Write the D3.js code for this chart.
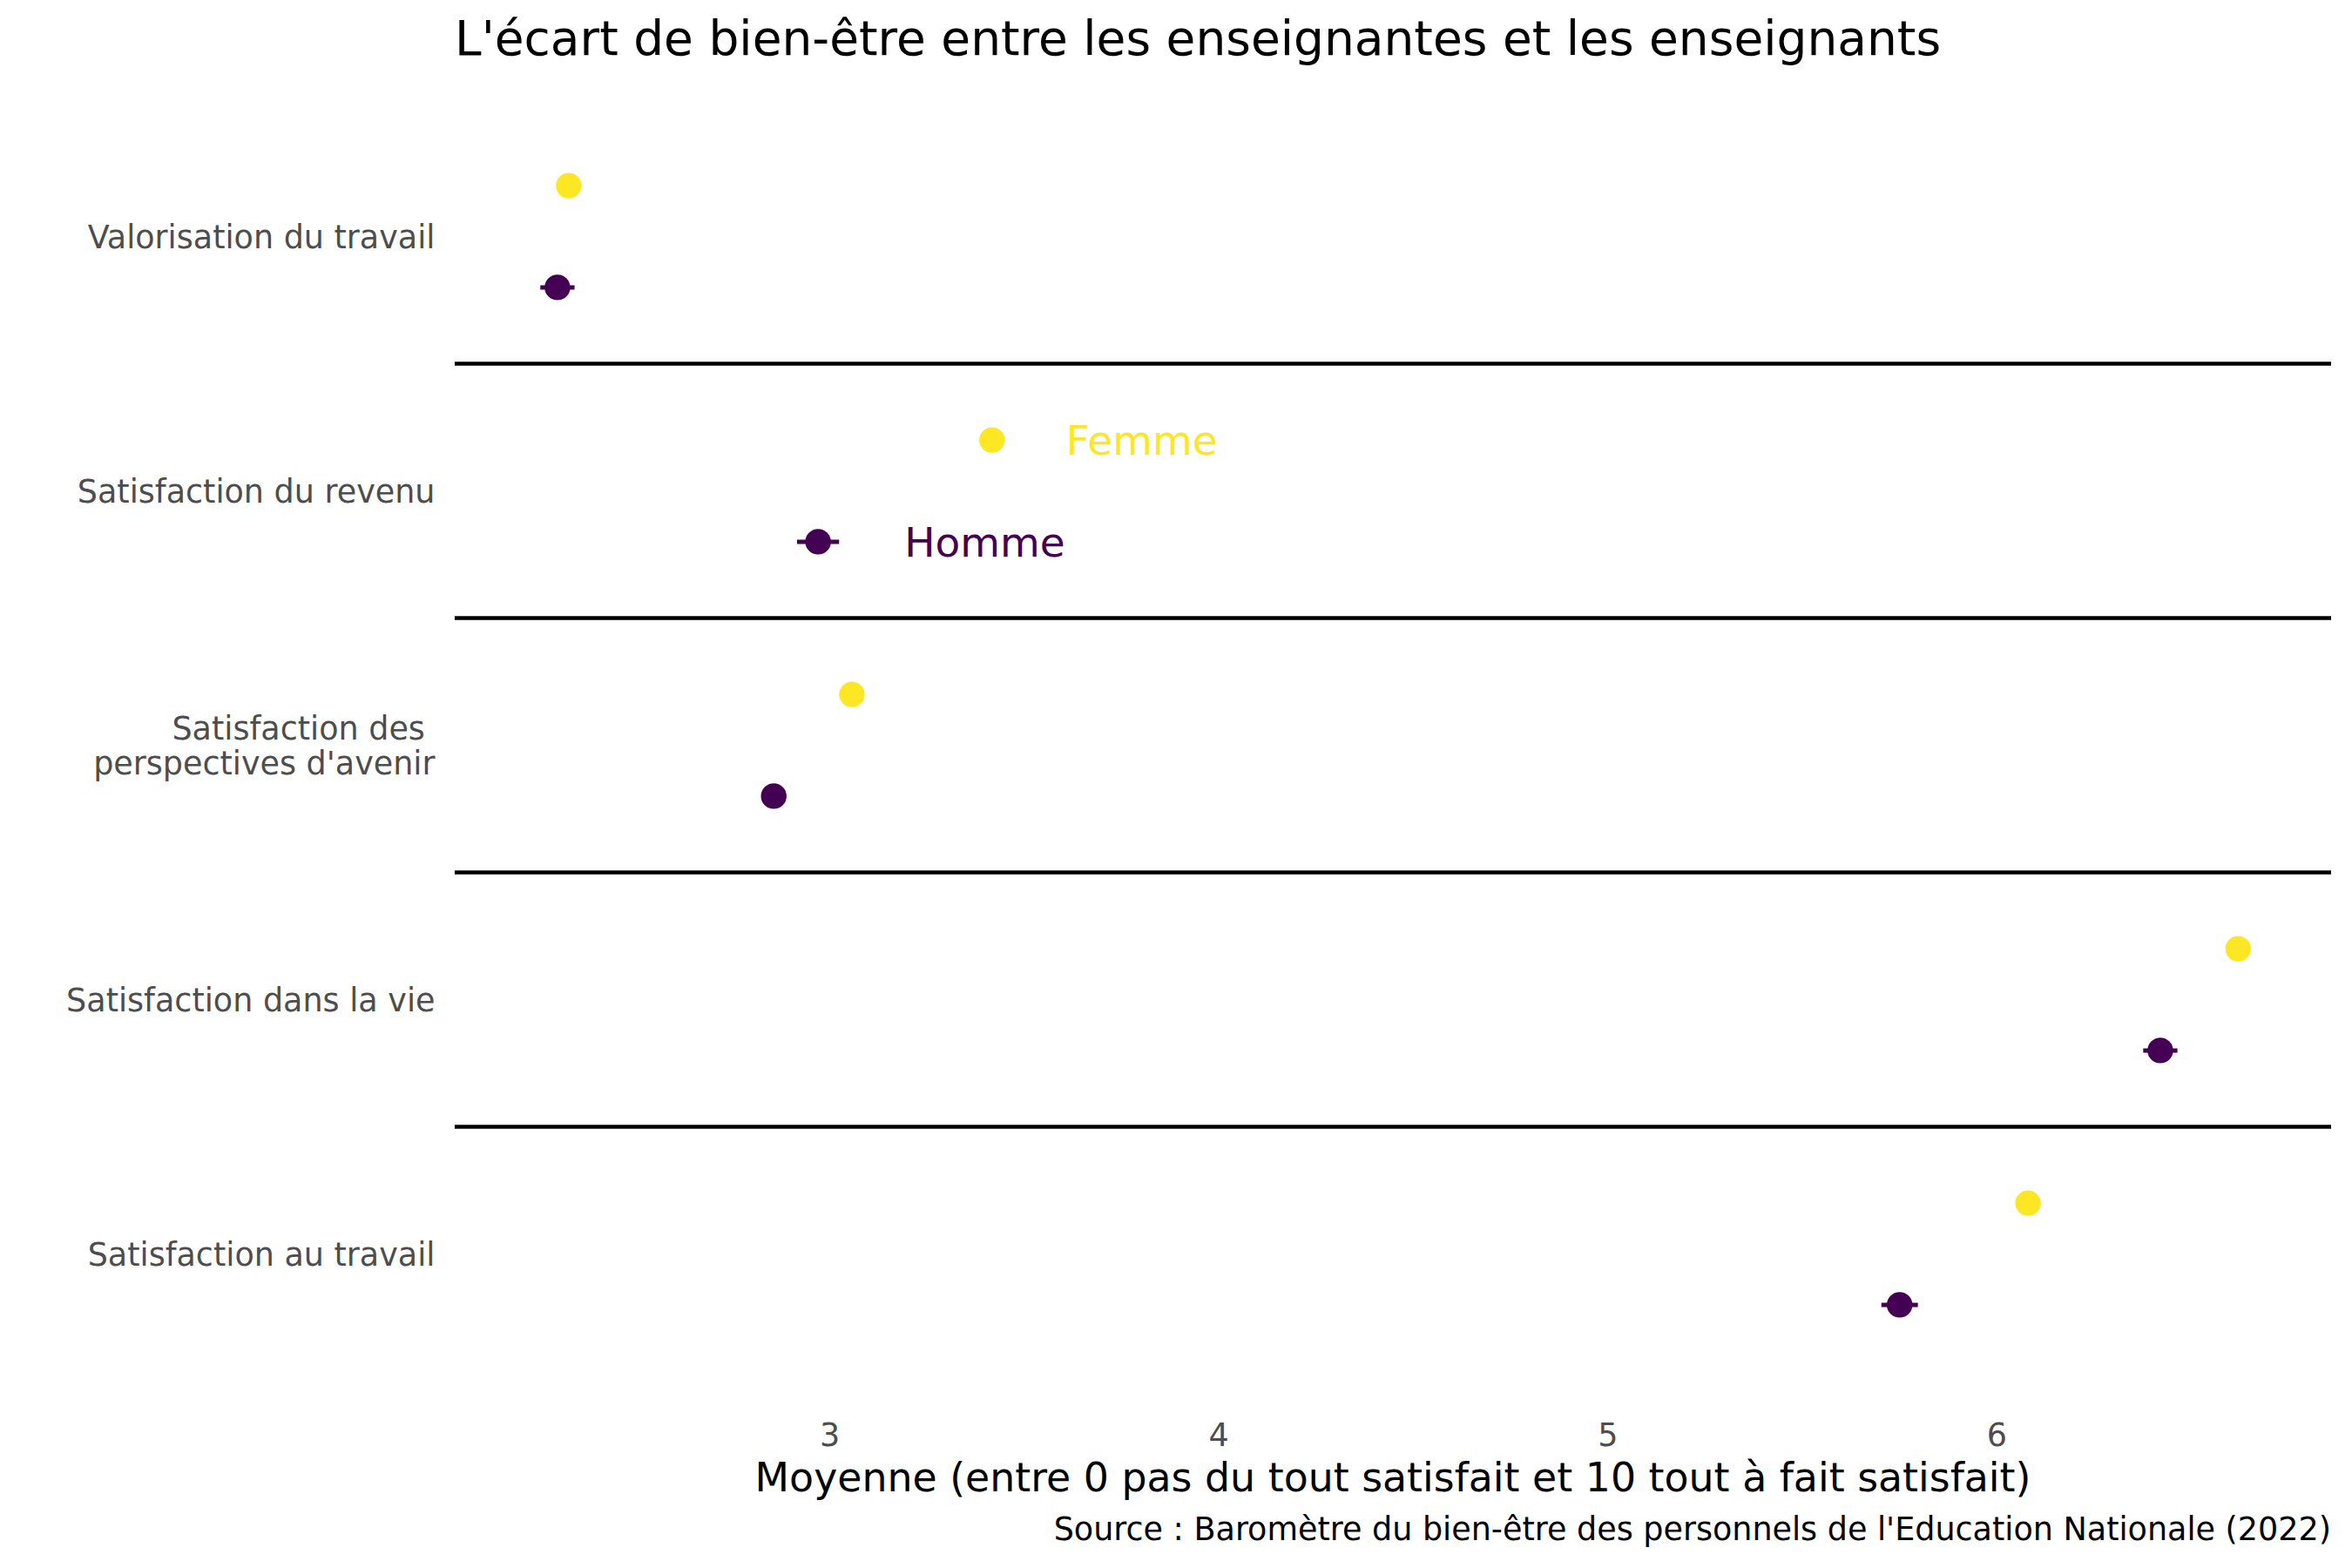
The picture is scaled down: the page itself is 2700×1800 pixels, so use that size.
<!DOCTYPE html>
<html>
<head>
<meta charset="utf-8">
<script src="https://cdn.jsdelivr.net/npm/d3@7"></script>
<style>
  html, body { margin: 0; padding: 0; background: #ffffff; }
  text { font-family: "DejaVu Sans", sans-serif; }
</style>
</head>
<body>
<svg id="chart" width="2700" height="1800"></svg>
<script>
// ---- data ----
const categories = [
  "Valorisation du travail",
  "Satisfaction du revenu",
  "Satisfaction des \nperspectives d'avenir",
  "Satisfaction dans la vie",
  "Satisfaction au travail"
];
const groups = ["Femme", "Homme"];
const femmeMeans = [2.330, 3.418, 3.058, 6.621, 6.081];
const femmeErr   = [0.020, 0.025, 0.020, 0.020, 0.020];
const hommeMeans = [2.301, 2.971, 2.857, 6.421, 5.751];
const hommeErr   = [0.044, 0.054, 0.030, 0.044, 0.047];
const xTicks = [3, 4, 5, 6];
const legendCategory = "Satisfaction du revenu";
const colors = { Femme: "#FDE725", Homme: "#440154" };

const titleText = "L'écart de bien-être entre les enseignantes et les enseignants";
const xTitleText = "Moyenne (entre 0 pas du tout satisfait et 10 tout à fait satisfait)";
const captionText = "Source : Baromètre du bien-être des personnels de l'Education Nationale (2022)";

// ---- build rows ----
const rows = [];
categories.forEach((c, i) => {
  rows.push({ cat: c, group: "Femme", mean: femmeMeans[i], err: femmeErr[i] });
  rows.push({ cat: c, group: "Homme", mean: hommeMeans[i], err: hommeErr[i] });
});

// ---- layout ----
const svg = d3.select("#chart");
const plotLeft = 522, plotRight = 2676, plotTop = 125.5, plotBottom = 1585.5;

const x = d3.scaleLinear().domain([2.037, 6.860]).range([plotLeft, plotRight]);
const y = d3.scaleBand().domain(categories).range([plotTop, plotBottom]).padding(0);
const dodge = d3.scalePoint().domain(groups).range([-0.2, 0.2]);
const yPos = d => y(d.cat) + y.bandwidth() / 2 + dodge(d.group) * y.bandwidth();

// separators between categories
svg.append("g").selectAll("line")
  .data(categories.slice(1))
  .join("line")
  .attr("x1", plotLeft).attr("x2", plotRight)
  .attr("y1", d => y(d)).attr("y2", d => y(d))
  .attr("stroke", "#000").attr("stroke-width", 4.5);

// x axis (labels only)
const xAxis = svg.append("g")
  .attr("transform", `translate(0,${plotBottom})`)
  .call(d3.axisBottom(x).tickValues(xTicks).tickSize(0).tickPadding(0).tickFormat(d3.format("d")));
xAxis.select(".domain").remove();
xAxis.selectAll("text")
  .attr("y", 74.5).attr("dy", null)
  .attr("fill", "#4d4d4d")
  .style("font-size", "36.5px")
  .style("font-family", "DejaVu Sans");

// y axis labels (multi-line, right aligned)
const yLab = svg.append("g").selectAll("text")
  .data(categories)
  .join("text")
  .attr("text-anchor", "end")
  .attr("fill", "#4d4d4d")
  .style("font-size", "36.5px")
  .style("white-space", "pre");
yLab.each(function(d) {
  const lines = d.split("\n");
  const cy = y(d) + y.bandwidth() / 2;
  const lh = 39.5;
  const first = cy + 13.3 - (lines.length - 1) * lh / 2;
  d3.select(this).selectAll("tspan")
    .data(lines).join("tspan")
    .attr("x", 499.5)
    .attr("y", (l, i) => first + i * lh)
    .text(l => l);
});

// error bars
svg.append("g").selectAll("line")
  .data(rows)
  .join("line")
  .attr("x1", d => x(d.mean - d.err))
  .attr("x2", d => x(d.mean + d.err))
  .attr("y1", yPos).attr("y2", yPos)
  .attr("stroke", d => colors[d.group])
  .attr("stroke-width", 5);

// points
svg.append("g").selectAll("circle")
  .data(rows)
  .join("circle")
  .attr("cx", d => x(d.mean))
  .attr("cy", yPos)
  .attr("r", 14.7)
  .attr("fill", d => colors[d.group]);

// direct labels (legend)
const labelOffset = { Femme: 85, Homme: 99 };
svg.append("g").selectAll("text")
  .data(rows.filter(r => r.cat === legendCategory))
  .join("text")
  .attr("x", d => x(d.mean) + labelOffset[d.group])
  .attr("y", d => yPos(d) + 17)
  .attr("fill", d => colors[d.group])
  .style("font-size", "47px")
  .text(d => d.group);

// title
svg.append("text")
  .attr("x", 522).attr("y", 63.3)
  .attr("fill", "#000")
  .style("font-size", "55px")
  .text(titleText);

// x axis title
svg.append("text")
  .attr("x", (plotLeft + plotRight) / 2).attr("y", 1711.7)
  .attr("text-anchor", "middle")
  .attr("fill", "#000")
  .style("font-size", "45.8px")
  .text(xTitleText);

// caption
svg.append("text")
  .attr("x", plotRight).attr("y", 1768)
  .attr("text-anchor", "end")
  .attr("fill", "#000")
  .style("font-size", "36.5px")
  .text(captionText);
</script>
</body>
</html>
